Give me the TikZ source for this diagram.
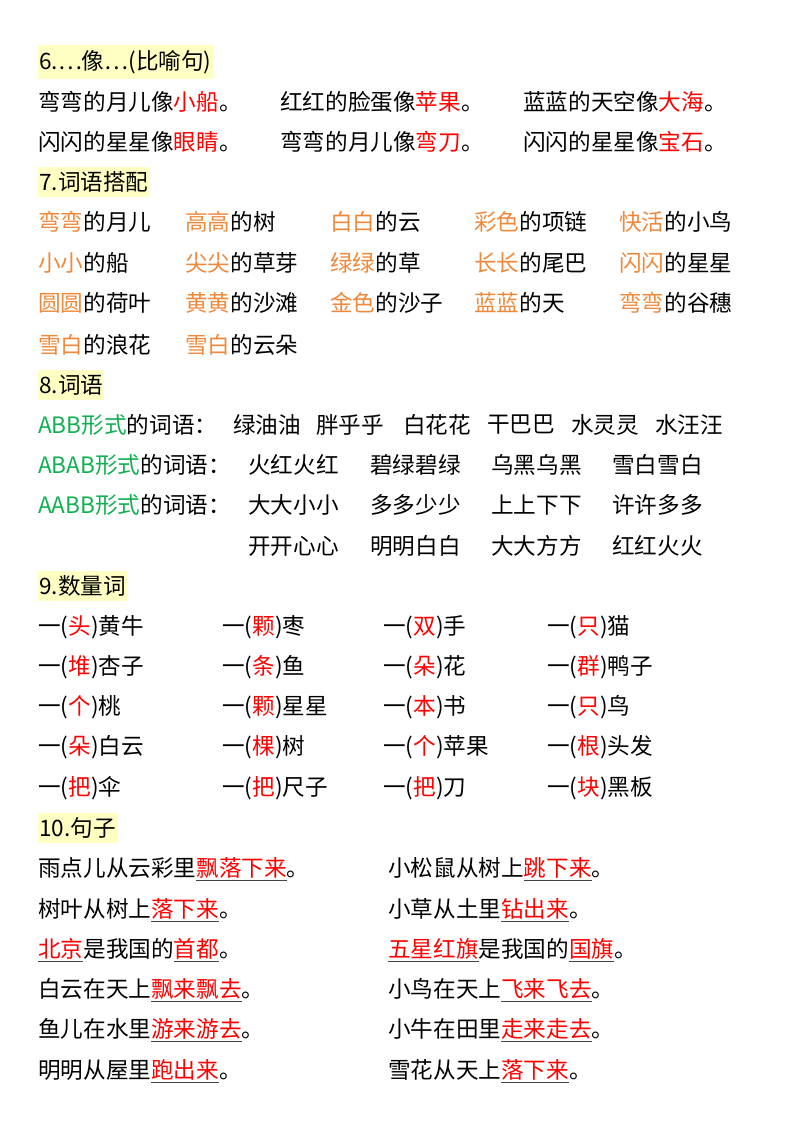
\documentclass[tikz,border=0pt]{standalone}
\usepackage{fontspec}
\setmainfont{Noto Sans CJK SC}
\definecolor{hl}{HTML}{FFFFC4}
\definecolor{og}{HTML}{F0883A}
\definecolor{gn}{HTML}{10B050}
\definecolor{rd}{HTML}{FF0000}
\definecolor{ulc}{HTML}{444444}
\newcommand{\R}[1]{\textcolor{rd}{#1}}
\newcommand{\Og}[1]{\textcolor{og}{#1}}
\newcommand{\G}[1]{\textcolor{gn}{#1}}
\newcommand{\U}[1]{{\color{ulc}\underline{\textcolor{rd}{#1}}}}
\newcommand{\Q}[1]{一(\R{#1})}
\begin{document}
\begin{tikzpicture}[x=1pt,y=-1pt,
  txt/.style={anchor=west,inner sep=0pt,font=\fontsize{22.6}{22.6}\selectfont},
  hdr/.style={txt,fill=hl,inner xsep=1pt,inner ysep=5pt}]
\useasboundingbox (0,0) rectangle (800,1132);
\newcommand{\T}[4][txt]{\node[#1] (n#2-#3) at (#2,#3) {#4};}
% section 6
\T[hdr]{38}{62}{6.…像…(比喻句)}
\T{38}{102}{弯弯的月儿像\R{小船}。}
\T{280}{102}{红红的脸蛋像\R{苹果}。}
\T{523}{102}{蓝蓝的天空像\R{大海}。}
\T{38}{142}{闪闪的星星像\R{眼睛}。}
\T{280}{142}{弯弯的月儿像\R{弯刀}。}
\T{523}{142}{闪闪的星星像\R{宝石}。}
% section 7
\T[hdr]{38}{182}{7.词语搭配}
\T{38}{222}{\Og{弯弯}的月儿}
\T{185}{222}{\Og{高高}的树}
\T{330}{222}{\Og{白白}的云}
\T{474}{222}{\Og{彩色}的项链}
\T{619}{222}{\Og{快活}的小鸟}
\T{38}{263}{\Og{小小}的船}
\T{185}{263}{\Og{尖尖}的草芽}
\T{330}{263}{\Og{绿绿}的草}
\T{474}{263}{\Og{长长}的尾巴}
\T{619}{263}{\Og{闪闪}的星星}
\T{38}{303}{\Og{圆圆}的荷叶}
\T{185}{303}{\Og{黄黄}的沙滩}
\T{330}{303}{\Og{金色}的沙子}
\T{474}{303}{\Og{蓝蓝}的天}
\T{619}{303}{\Og{弯弯}的谷穗}
\T{38}{345}{\Og{雪白}的浪花}
\T{185}{345}{\Og{雪白}的云朵}
% section 8
\T[hdr]{38}{385}{8.词语}
\T{38}{425}{\G{ABB形式}的词语：}
\T{233}{425}{绿油油}
\T{316}{425}{胖乎乎}
\T{403}{425}{白花花}
\T{487}{425}{干巴巴}
\T{571}{425}{水灵灵}
\T{655}{425}{水汪汪}
\T{38}{465}{\G{ABAB形式}的词语：}
\T{248}{465}{火红火红}
\T{370}{465}{碧绿碧绿}
\T{491}{465}{乌黑乌黑}
\T{612}{465}{雪白雪白}
\T{38}{505}{\G{AABB形式}的词语：}
\T{248}{505}{大大小小}
\T{370}{505}{多多少少}
\T{491}{505}{上上下下}
\T{612}{505}{许许多多}
\T{248}{546}{开开心心}
\T{370}{546}{明明白白}
\T{491}{546}{大大方方}
\T{612}{546}{红红火火}
% section 9
\T[hdr]{38}{586}{9.数量词}
\T{38}{627}{\Q{头}黄牛}
\T{222}{627}{\Q{颗}枣}
\T{383}{627}{\Q{双}手}
\T{547}{627}{\Q{只}猫}
\T{38}{667}{\Q{堆}杏子}
\T{222}{667}{\Q{条}鱼}
\T{383}{667}{\Q{朵}花}
\T{547}{667}{\Q{群}鸭子}
\T{38}{707}{\Q{个}桃}
\T{222}{707}{\Q{颗}星星}
\T{383}{707}{\Q{本}书}
\T{547}{707}{\Q{只}鸟}
\T{38}{747}{\Q{朵}白云}
\T{222}{747}{\Q{棵}树}
\T{383}{747}{\Q{个}苹果}
\T{547}{747}{\Q{根}头发}
\T{38}{788}{\Q{把}伞}
\T{222}{788}{\Q{把}尺子}
\T{383}{788}{\Q{把}刀}
\T{547}{788}{\Q{块}黑板}
% section 10
\T[hdr]{38}{828}{10.句子}
\T{38}{869}{雨点儿从云彩里\U{飘落下来}。}
\T{388}{869}{小松鼠从树上\U{跳下来}。}
\T{38}{910}{树叶从树上\U{落下来}。}
\T{388}{910}{小草从土里\U{钻出来}。}
\T{38}{950}{\U{北京}是我国的\U{首都}。}
\T{388}{950}{\U{五星红旗}是我国的\U{国旗}。}
\T{38}{990}{白云在天上\U{飘来飘去}。}
\T{388}{990}{小鸟在天上\U{飞来飞去}。}
\T{38}{1030}{鱼儿在水里\U{游来游去}。}
\T{388}{1030}{小牛在田里\U{走来走去}。}
\T{38}{1071}{明明从屋里\U{跑出来}。}
\T{388}{1071}{雪花从天上\U{落下来}。}
\end{tikzpicture}
\end{document}
